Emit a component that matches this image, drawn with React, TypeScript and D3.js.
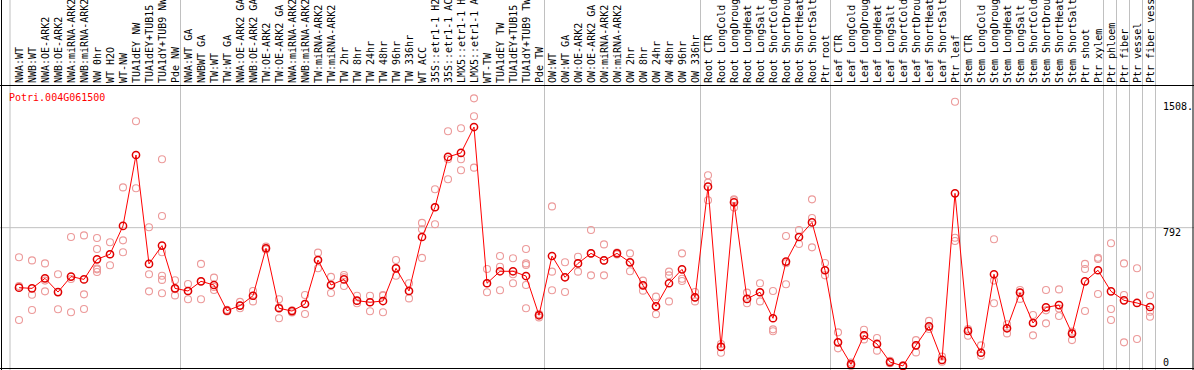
import * as React from 'react';
import * as d3 from 'd3';

const geneId = 'Potri.004G061500';

const samples = [
  'NWA:WT', 'NWB:WT', 'NWA:OE-ARK2', 'NWB:OE-ARK2', 'NWA:miRNA-ARK2', 'NWB:miRNA-ARK2',
  'NW 0hr', 'WT H2O', 'WT-NW', 'TUA1dEY NW', 'TUA1dEY+TUB15 NW', 'TUA1dY+TUB9 NW', 'Pde NW',
  'NWA:WT GA', 'NWBWT GA', 'TW:WT', 'TW:WT GA', 'NWA:OE-ARK2 GA', 'NWB:OE-ARK2 GA',
  'TW:OE-ARK2', 'TW:OE-ARK2 GA', 'NWA:miRNA-ARK2 GA', 'NWB:miRNA-ARK2 GA', 'TW:miRNA-ARK2',
  'TW:miRNA-ARK2 GA', 'TW 2hr', 'TW 8hr', 'TW 24hr', 'TW 48hr', 'TW 96hr', 'TW 336hr',
  'WT ACC', '35S::etr1-1 H2O', '35S::etr1-1 ACC', 'LMX5::etr1-1 H2O', 'LMX5::etr1-1 ACC',
  'WT-TW', 'TUA1dEY TW', 'TUA1dEY+TUB15 TW', 'TUA1dY+TUB9 TW', 'Pde TW',
  'OW:WT', 'OW:WT GA', 'OW:OE-ARK2', 'OW:OE-ARK2 GA', 'OW:miRNA-ARK2', 'OW:miRNA-ARK2 GA',
  'OW 2hr', 'OW 8hr', 'OW 24hr', 'OW 48hr', 'OW 96hr', 'OW 336hr',
  'Root CTR', 'Root LongCold', 'Root LongDrought', 'Root LongHeat', 'Root LongSalt',
  'Root ShortCold', 'Root ShortDrought', 'Root ShortHeat', 'Root ShortSalt', 'Ptr root',
  'Leaf CTR', 'Leaf LongCold', 'Leaf LongDrought', 'Leaf LongHeat', 'Leaf LongSalt',
  'Leaf ShortCold', 'Leaf ShortDrought', 'Leaf ShortHeat', 'Leaf ShortSalt', 'Ptr leaf',
  'Stem CTR', 'Stem LongCold', 'Stem LongDrought', 'Stem LongHeat', 'Stem LongSalt',
  'Stem ShortCold', 'Stem ShortDrought', 'Stem ShortHeat', 'Stem ShortSalt', 'Ptr shoot',
  'Ptr xylem', 'Ptr phloem', 'Ptr fiber', 'Ptr vessel', 'Ptr fiber vessel',
];

// mean expression per sample
const means = [
  451, 447, 504, 426, 514, 498, 612, 641, 802, 1205, 586, 690, 447,
  432, 487, 466, 320, 349, 405, 675, 334, 318, 358, 608, 466, 498, 377, 368, 375, 561, 432,
  739, 908, 1194, 1217, 1364, 476, 544, 544, 517, 294,
  631, 510, 589, 646, 606, 646, 595, 464, 345, 476, 555, 396,
  1025, 114, 936, 387, 425, 277, 599, 739, 822, 550,
  140, 15, 180, 131, 28, 6, 123, 231, 40, 987,
  205, 81, 527, 220, 423, 250, 339, 352, 190, 487,
  550, 430, 379, 364, 341,
];

// replicate values per sample
const replicates = [
  [624, 460, 267], [606, 411, 324], [589, 491, 430], [527, 426, 328], [739, 500, 311],
  [748, 413, 330], [733, 671, 560, 540, 555], [709, 641, 578], [1021, 720, 652], [1397, 1016],
  [794, 527, 430], [1181, 858, 652, 519, 495, 419], [493, 442, 407],
  [472, 432, 385], [586, 487, 385], [508, 455, 438], [325, 318, 316], [370, 349, 334],
  [432, 405, 373], [684, 675, 668], [385, 340, 277], [322, 318, 310], [409, 358, 301],
  [650, 608, 561], [512, 466, 421], [523, 510, 460], [405, 377, 362], [405, 368, 317],
  [409, 405, 311], [608, 561, 519], [476, 432, 390],
  [819, 783, 620], [1010, 908, 811], [1340, 1181, 1067], [1357, 1181, 1118], [1527, 1425, 1133],
  [557, 476, 425], [631, 570, 436], [618, 527, 476], [671, 589, 580, 466, 334], [301, 298, 282],
  [913, 542, 436], [595, 510, 426], [627, 589, 542], [779, 646, 521], [697, 606, 521],
  [650, 646, 640], [646, 595, 544], [491, 464, 434], [400, 345, 300], [542, 521, 373],
  [646, 502, 489], [426, 396, 373],
  [1090, 1048, 948], [131, 114, 81], [953, 948, 906], [423, 387, 362], [476, 425, 373],
  [432, 214, 203], [745, 590, 470], [779, 739, 699], [953, 847, 680], [591, 550, 521],
  [197, 140, 106], [25, 15, 6], [212, 180, 157], [165, 131, 93], [35, 28, 22],
  [10, 6, 3], [153, 123, 83], [262, 231, 216], [59, 40, 30], [1508, 735, 716],
  [216, 205, 178], [123, 81, 64], [726, 491, 362], [243, 220, 191], [438, 423, 387],
  [296, 250, 180], [438, 322, 248], [441, 332, 290], [201, 190, 153], [586, 557, 318],
  [621, 614, 415], [703, 330, 267], [589, 409, 140], [561, 364, 159], [408, 314, 286],
];

// last sample index of each group (vertical separators)
const groupEnds = [12, 40, 52, 62, 72, 83, 84, 85, 86, 87];

const yTicks = [0, 792, 1508];
const yTickLabels = ['0', '792', '1508.'];

const W = 1194;
const H = 370;
const mono = '"DejaVu Sans Mono", monospace';

export default function App() {
  const x = d3.scaleLinear().domain([0, samples.length - 1]).range([19, 1150]);
  const y = d3.scaleLinear().domain([0, 1508]).range([367, 101.7]);

  const line = d3
    .line<number>()
    .x((_, i) => x(i))
    .y((d) => y(d));

  const grey = '#c0c0c0';

  return (
    <svg
      width={W}
      height={H}
      style={{ position: 'absolute', left: 0, top: 0, background: '#fff' }}
    >
      {/* grid */}
      <line x1={x(0) - 9} x2={x(0) - 9} y1={0} y2={H} stroke={grey} />
      {groupEnds.map((g) => (
        <line key={g} x1={x(g) + 5.5} x2={x(g) + 5.5} y1={0} y2={H} stroke={grey} />
      ))}
      <line x1={0} x2={W} y1={y(792)} y2={y(792)} stroke={grey} />

      {/* header labels, cut at the top edge like the original */}
      {samples.map((s, i) => (
        <text
          key={s + i}
          transform={`translate(${x(i) + 3.5},83) rotate(-90)`}
          fontFamily={mono}
          fontSize={10}
          fill="#000"
        >
          {s}
        </text>
      ))}

      <text x={9} y={100.5} fontFamily={mono} fontSize={10} fill="#ff0000">
        {geneId}
      </text>

      {/* replicates */}
      {replicates.map((reps, i) =>
        reps.map((v, j) => (
          <circle
            key={`${i}-${j}`}
            cx={x(i)}
            cy={y(v)}
            r={3.5}
            fill="none"
            stroke="#ec9a9a"
            strokeWidth={1.1}
          />
        ))
      )}

      {/* mean line */}
      <path d={line(means) || ''} fill="none" stroke="#ff0000" strokeWidth={1} />
      {means.map((v, i) => (
        <circle
          key={i}
          cx={x(i)}
          cy={y(v)}
          r={3.6}
          fill="none"
          stroke="#e00000"
          strokeWidth={1.5}
        />
      ))}

      {/* right axis labels */}
      {yTicks.map((t, i) => (
        <text
          key={t}
          x={1163}
          y={t === 0 ? y(t) - 1 : y(t) + 8.5}
          fontFamily={mono}
          fontSize={10}
          fill="#000"
        >
          {yTickLabels[i]}
        </text>
      ))}

      {/* borders */}
      <line x1={0} x2={W} y1={85.5} y2={85.5} stroke="#000" />
      <line x1={1.5} x2={1.5} y1={0} y2={H} stroke="#000" />
      <line x1={W - 1} x2={W - 1} y1={0} y2={H} stroke="#000" />
      <line x1={0} x2={W} y1={368.5} y2={368.5} stroke="#000" />
    </svg>
  );
}
